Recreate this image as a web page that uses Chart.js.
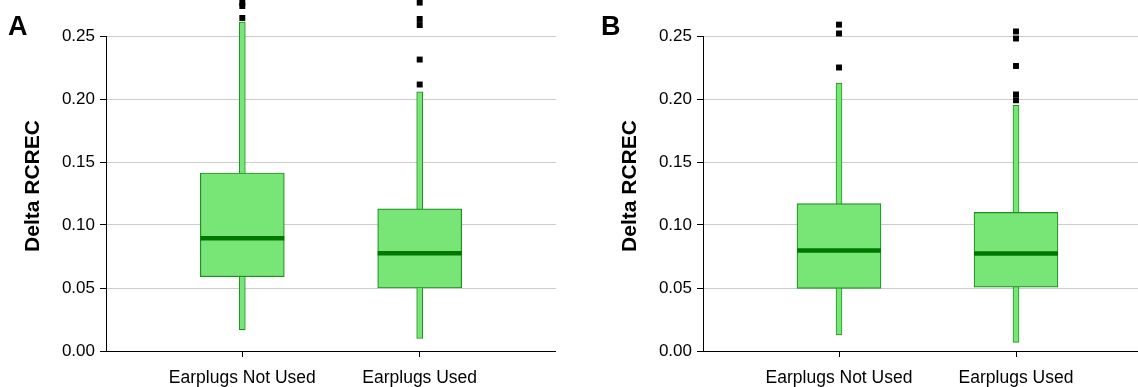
<!DOCTYPE html>
<html>
<head>
<meta charset="utf-8">
<script src="https://cdn.jsdelivr.net/npm/chart.js@4"></script>
<style>
  body { margin: 0; background: #fff; width: 1138px; height: 387px; overflow: hidden; position: relative; font-family: 'Liberation Sans', Arial, sans-serif; }
  .panel { position: absolute; top: 0; height: 387px; }
  .letter { position: absolute; font-size: 27px; font-weight: bold; line-height: 1; color: #000; }
  .ytitle { position: absolute; font-size: 21px; font-weight: bold; line-height: 1; white-space: nowrap; color: #000;
            transform: translate(-50%, -50%) rotate(-90deg); }
</style>
</head>
<body>
<div class="panel" style="left:0;width:556px"><canvas id="chartA"></canvas></div>
<div class="panel" style="left:597px;width:541px"><canvas id="chartB"></canvas></div>
<div class="letter" style="left:8px;top:13px">A</div>
<div class="letter" style="left:601px;top:13px">B</div>
<div class="ytitle" style="left:31px;top:186px">Delta RCREC</div>
<div class="ytitle" style="left:628px;top:186px">Delta RCREC</div>
<script>
const categories = ['Earplugs Not Used', 'Earplugs Used'];
const yTicks = [0, 0.05, 0.10, 0.15, 0.20, 0.25];

// panel A
const lowA = [0.017, 0.010];
const q1A = [0.059, 0.050];
const medA = [0.0895, 0.0775];
const q3A = [0.1413, 0.1128];
const highA = [0.261, 0.2056];
const outA = [[0.2643, 0.2738, 0.2762], [0.2115, 0.2313, 0.2587, 0.2635, 0.2765]];

// panel B
const lowB = [0.0127, 0.0069];
const q1B = [0.0497, 0.0507];
const medB = [0.0798, 0.0774];
const q3B = [0.117, 0.110];
const highB = [0.2126, 0.195];
const outB = [[0.225, 0.252, 0.259], [0.199, 0.2036, 0.2262, 0.248, 0.2536]];

const boxFill = '#77e677';
const boxLine = '#1f911f';
const medColor = '#007800';

// y axis line only runs from 0 up to the top tick
const yAxisLine = {
  id: 'yAxisLine',
  beforeDatasetsDraw(chart) {
    const y = chart.scales.y, ctx = chart.ctx;
    const x = Math.round(chart.chartArea.left) + 0.5;
    ctx.save();
    ctx.strokeStyle = '#000';
    ctx.lineWidth = 1;
    ctx.beginPath();
    ctx.moveTo(x, y.getPixelForValue(yTicks[yTicks.length - 1]));
    ctx.lineTo(x, y.getPixelForValue(0));
    ctx.stroke();
    ctx.restore();
  }
};

function makeChart(id, low, q1, med, q3, high, outliers, xMax) {
  const pos = categories.map((c, i) => i + 1);
  const outPts = [];
  outliers.forEach((list, i) => list.forEach(v => outPts.push({ x: pos[i], y: v })));
  return new Chart(document.getElementById(id), {
    type: 'bar',
    plugins: [yAxisLine],
    data: {
      datasets: [
        {
          type: 'scatter', data: outPts, clip: false,
          pointStyle: 'rect', pointRadius: 4.2, pointBorderWidth: 0,
          pointBackgroundColor: '#000', pointBorderColor: '#000'
        },
        {
          type: 'scatter', data: pos.map((x, i) => ({ x, y: med[i] })), clip: false,
          pointStyle: 'line', pointRadius: 42, pointBorderWidth: 4.5, pointBorderColor: medColor
        },
        {
          data: pos.map((x, i) => ({ x, y: [q1[i], q3[i]] })), grouped: false, barThickness: 84,
          backgroundColor: boxFill, borderColor: boxLine, borderWidth: 1.2, borderSkipped: false
        },
        {
          data: pos.map((x, i) => ({ x, y: [low[i], high[i]] })), grouped: false, barThickness: 6, clip: false,
          backgroundColor: boxFill, borderColor: boxLine, borderWidth: 1, borderSkipped: false
        }
      ]
    },
    options: {
      responsive: true, maintainAspectRatio: false, animation: false, events: [],
      layout: { padding: 0, autoPadding: false },
      plugins: { legend: { display: false }, tooltip: { enabled: false } },
      scales: {
        x: {
          type: 'linear', min: 1 - 136 / 177, max: xMax, offset: false,
          afterBuildTicks: s => { s.ticks = pos.map(v => ({ value: v })); },
          afterFit: s => { s.height = 36; s.paddingLeft = 0; s.paddingRight = 0; },
          ticks: {
            callback: v => categories[Math.round(v) - 1] || '',
            font: { family: "'Liberation Sans', Arial", size: 17.5 }, color: '#000', padding: 11,
            maxRotation: 0, autoSkip: false
          },
          grid: { drawOnChartArea: false, offset: false, tickLength: 6, tickColor: '#000' },
          border: { color: '#000', width: 1 }
        },
        y: {
          min: 0, max: 351 / 1260,
          afterBuildTicks: s => { s.ticks = yTicks.map(v => ({ value: v })); },
          afterFit: s => { s.width = 106; s.paddingTop = 0; s.paddingBottom = 0; },
          ticks: {
            callback: v => v.toFixed(2),
            font: { family: "'Liberation Sans', Arial", size: 17 }, color: '#000', padding: 5
          },
          grid: { color: '#cccccc', lineWidth: 1, tickLength: 6, tickColor: '#000' },
          border: { display: false }
        }
      }
    }
  });
}

makeChart('chartA', lowA, q1A, medA, q3A, highA, outA, 2 + 136 / 177);
makeChart('chartB', lowB, q1B, medB, q3B, highB, outB, 2 + 122 / 177);
</script>
</body>
</html>
